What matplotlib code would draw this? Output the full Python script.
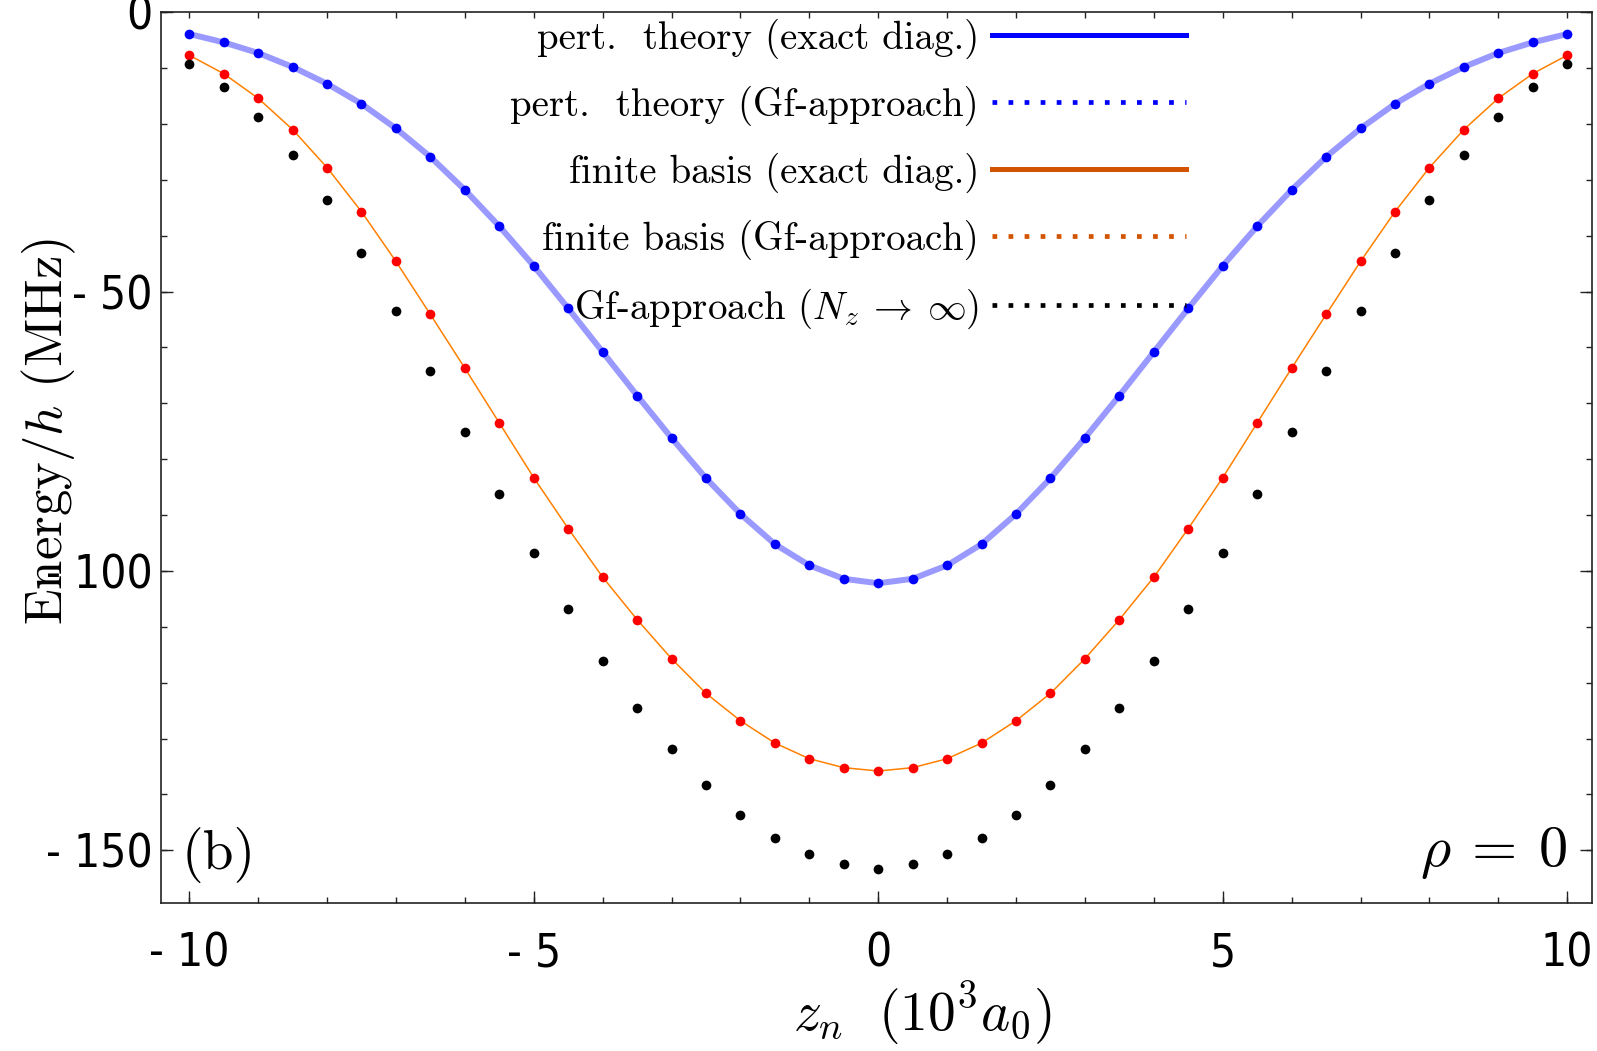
import os
import numpy as np
import matplotlib
matplotlib.use("Agg")
import matplotlib.pyplot as plt
from matplotlib.lines import Line2D
from matplotlib import font_manager

plt.rcParams['mathtext.fontset'] = 'cm'
plt.rcParams['font.family'] = 'cmr10'
plt.rcParams['axes.unicode_minus'] = False

# z_n in units of 10^3 a0
z = [-10, -9.5, -9, -8.5, -8, -7.5, -7, -6.5, -6, -5.5, -5, -4.5, -4, -3.5, -3,
     -2.5, -2, -1.5, -1, -0.5, 0, 0.5, 1, 1.5, 2, 2.5, 3, 3.5, 4, 4.5, 5,
     5.5, 6, 6.5, 7, 7.5, 8, 8.5, 9, 9.5, 10]

# perturbation theory (blue)
e_pert = [-3.9, -5.4, -7.3, -9.8, -12.8, -16.4, -20.8, -25.9, -31.8, -38.3, -45.4,
          -53.0, -60.8, -68.6, -76.2, -83.4, -89.8, -95.2, -99.0, -101.4, -102.2,
          -101.4, -99.0, -95.2, -89.8, -83.4, -76.2, -68.6, -60.8, -53.0, -45.4,
          -38.3, -31.8, -25.9, -20.8, -16.4, -12.8, -9.8, -7.3, -5.4, -3.9]

# finite basis (red / orange)
e_finite = [-7.7, -11.0, -15.4, -21.0, -27.8, -35.7, -44.6, -54.1, -63.7, -73.5, -83.3,
            -92.4, -101.1, -108.7, -115.7, -121.9, -126.8, -130.8, -133.6, -135.2, -135.8,
            -135.2, -133.6, -130.8, -126.8, -121.9, -115.7, -108.7, -101.1, -92.4, -83.3,
            -73.5, -63.7, -54.1, -44.6, -35.7, -27.8, -21.0, -15.4, -11.0, -7.7]

# Gf-approach, N_z -> infinity (black)
e_inf = [-9.3, -13.3, -18.7, -25.5, -33.7, -43.1, -53.5, -64.3, -75.2, -86.2, -96.8,
         -106.8, -116.1, -124.5, -131.8, -138.3, -143.6, -147.8, -150.7, -152.5, -153.3,
         -152.5, -150.7, -147.8, -143.6, -138.3, -131.8, -124.5, -116.1, -106.8, -96.8,
         -86.2, -75.2, -64.3, -53.5, -43.1, -33.7, -25.5, -18.7, -13.3, -9.3]

xtick_pos = [-10, -5, 0, 5, 10]
xtick_lab = ['- 10', '- 5', '0', '5', '10']
ytick_pos = [0, -50, -100, -150]
ytick_lab = ['0', '- 50', '- 100', '- 150']


def narrow_font(size):
    # look for a condensed sans file for the tick numbers
    files = [f.fname for f in font_manager.fontManager.ttflist]
    for key in ['LiberationSansNarrow-Regular', 'DejaVuSansCondensed.']:
        for f in files:
            if key in os.path.basename(f):
                return font_manager.FontProperties(fname=f, size=size)
    return font_manager.FontProperties(family='Liberation Sans', stretch='condensed', size=size)


fig = plt.figure(figsize=(15.97, 10.51), dpi=100)
ax = fig.add_axes([0.1008, 0.1404, 0.8961, 0.848])

ax.plot(z, e_pert, color='#9999ff', lw=4.3, zorder=2)
ax.plot(z, e_pert, 'o', color='#0000ff', ms=7, mec='none', zorder=3)
ax.plot(z, e_finite, color='#ff8000', lw=1.1, zorder=2)
ax.plot(z, e_finite, 'o', color='#ff0000', ms=7, mec='none', zorder=3)
ax.plot(z, e_inf, 'o', color='black', ms=7, mec='none', zorder=3)

ax.set_xlim(-10.41, 10.36)
ax.set_ylim(-159.5, 0)

# ticks
tfont = narrow_font(33)
ax.set_xticks(xtick_pos)
ax.set_xticklabels(xtick_lab, fontproperties=tfont)
ax.set_xticks(np.arange(-10, 11, 1), minor=True)
ax.set_yticks(ytick_pos)
ax.set_yticklabels(ytick_lab, fontproperties=tfont)
ax.set_yticks(np.arange(-150, 1, 10), minor=True)
ax.xaxis.remove_overlapping_locs = False
ax.yaxis.remove_overlapping_locs = False

ax.tick_params(which='major', direction='in', length=8.5, width=1, color='#222222',
               bottom=True, top=False, left=True, right=True)
ax.tick_params(which='minor', direction='in', length=4.5, width=1, color='#222222',
               bottom=True, top=True, left=True, right=True)
ax.tick_params(axis='x', which='major', pad=20)
ax.tick_params(axis='y', which='major', pad=6)
for s in ax.spines.values():
    s.set_linewidth(1.2)
    s.set_color('#222222')

ax.set_xlabel(r'$z_n\ \ (10^3 a_0)$', fontsize=40)
ax.xaxis.set_label_coords(0.532, -0.085)
ax.set_ylabel(r'Energy$/h$ (MHz)', fontsize=38)
ax.yaxis.set_label_coords(-0.058, 0.53)

ax.text(0.040, 0.054, '(b)', transform=ax.transAxes, fontsize=40,
        ha='center', va='center')
ax.text(0.9316, 0.057, r'$\rho\:=\:0$', transform=ax.transAxes, fontsize=42,
        ha='center', va='center')

# legend with proxy handles
dots = (0, (1, 2.4))
handles = [
    Line2D([], [], color='#0000ff', lw=3.6),
    Line2D([], [], color='#0000ff', lw=3.4, ls=dots),
    Line2D([], [], color='#d35400', lw=3.6),
    Line2D([], [], color='#d35400', lw=3.4, ls=dots),
    Line2D([], [], color='black', lw=3.4, ls=dots),
]
labels = ['pert.  theory (exact diag.)',
          'pert.  theory (Gf-approach)',
          'finite basis (exact diag.)',
          'finite basis (Gf-approach)',
          r'Gf-approach ($N_z\:\to\:\infty$)']
ax.legend(handles, labels, loc='upper right', bbox_to_anchor=(0.716, 0.993),
          frameon=False, markerfirst=False, fontsize=28, handlelength=4.97,
          handletextpad=0.34, labelspacing=0.69, borderpad=0, borderaxespad=0)

fig.savefig('out.png', dpi=100)
